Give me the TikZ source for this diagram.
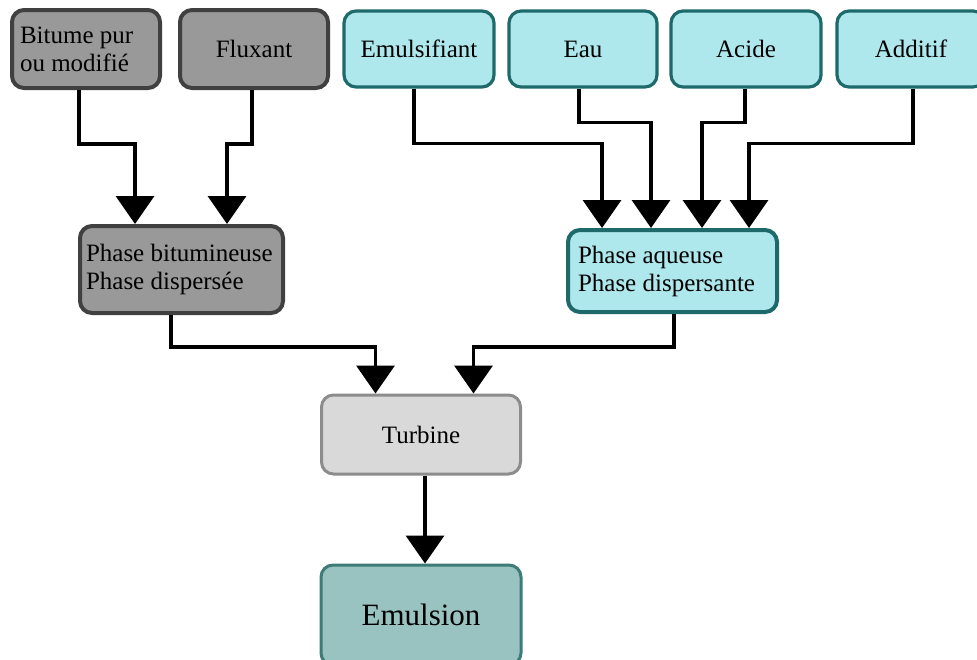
\documentclass[tikz,border=0pt]{standalone}
\usepackage{fontspec}
\setmainfont{Liberation Serif}
\usetikzlibrary{calc,arrows.meta}

\definecolor{bitgray}{RGB}{153,153,153}
\definecolor{bitedge}{RGB}{64,64,64}
\definecolor{aqfill}{RGB}{174,232,236}
\definecolor{aqedge}{RGB}{30,106,106}
\definecolor{turbfill}{RGB}{217,217,217}
\definecolor{turbedge}{RGB}{140,140,140}
\definecolor{emfill}{RGB}{153,195,192}
\definecolor{emedge}{RGB}{62,122,118}

\begin{document}
\begin{tikzpicture}[x=0.5pt,y=-0.5pt,
    box/.style ={rectangle, rounded corners=6pt, inner sep=2pt,
      font=\fontsize{12.5}{14}\selectfont, align=flush left},
    bitbox/.style ={box, draw=bitedge, fill=bitgray, line width=2pt},
    aqbox/.style ={box, draw=aqedge, fill=aqfill, line width=1.6pt},
    flow/.style ={line width=1.8pt, -{Triangle[width=19pt,length=14pt]}}]
   \useasboundingbox (0,0) rectangle (977,659);
   % ingredients
   \node[bitbox, inner xsep=4pt, text width=66pt, minimum height=39pt] (bitume) at (86,49) {Bitume pur\\ou modifié};
   \node[bitbox, minimum width=74pt, minimum height=39pt] (fluxant) at (254,49) {Fluxant};
   \node[aqbox, minimum width=75pt, minimum height=38pt] (emuls) at (419,49) {Emulsifiant};
   \node[aqbox, minimum width=74pt, minimum height=38pt] (eau) at (583,49) {Eau};
   \node[aqbox, minimum width=75pt, minimum height=38pt] (acide) at (746,49) {Acide};
   \node[aqbox, minimum width=74pt, minimum height=38pt] (additif) at (911,49) {Additif};
   % phases
   \node[bitbox, inner xsep=3pt, text width=95.5pt, minimum height=43.5pt] (phaseb) at (181.5,269.5) {Phase bitumineuse\\Phase dispersée};
   \node[aqbox, line width=2pt, inner xsep=5pt, text width=94.5pt, minimum height=41pt] (phasea) at (672.5,271) {Phase aqueuse\\Phase dispersante};
   % mixing
   \node[box, draw=turbedge, fill=turbfill, line width=1.5pt, minimum width=99.5pt, minimum height=39.5pt] (turbine) at (421,434.5) {Turbine};
   \node[box, draw=emedge, fill=emfill, line width=1.5pt, minimum width=100pt, minimum height=50pt,
     font=\fontsize{15.5}{18}\selectfont] (emulsion) at (421,615) {Emulsion};
   % connectors
   \draw[flow] ($(bitume.south)+(-7,0)$) -- ++(0,54) -| ($(phaseb.north)+(-46.5,0)$);
   \draw[flow] ($(fluxant.south)+(-2,0)$) -- ++(0,54) -| ($(phaseb.north)+(45.5,0)$);
   \draw[flow] ($(emuls.south)+(-5,0)$) -- ++(0,55) -| ($(phasea.north)+(-70.5,0)$);
   \draw[flow] ($(eau.south)+(-4,0)$) -- ++(0,34) -| ($(phasea.north)+(-21.5,0)$);
   \draw[flow] ($(acide.south)+(-1,0)$) -- ++(0,34) -| ($(phasea.north)+(29.5,0)$);
   \draw[flow] ($(additif.south)+(2,0)$) -- ++(0,55) -| ($(phasea.north)+(76.5,0)$);
   \draw[flow] ($(phaseb.south)+(-10.5,0)$) -- ++(0,32) -| ($(turbine.north)+(-45.5,0)$);
   \draw[flow] ($(phasea.south)+(1.5,0)$) -- ++(0,33) -| ($(turbine.north)+(52.5,0)$);
   \draw[flow] ($(turbine.south)+(4,0)$) -- ($(emulsion.north)+(4,0)$);
\end{tikzpicture}
\end{document}
